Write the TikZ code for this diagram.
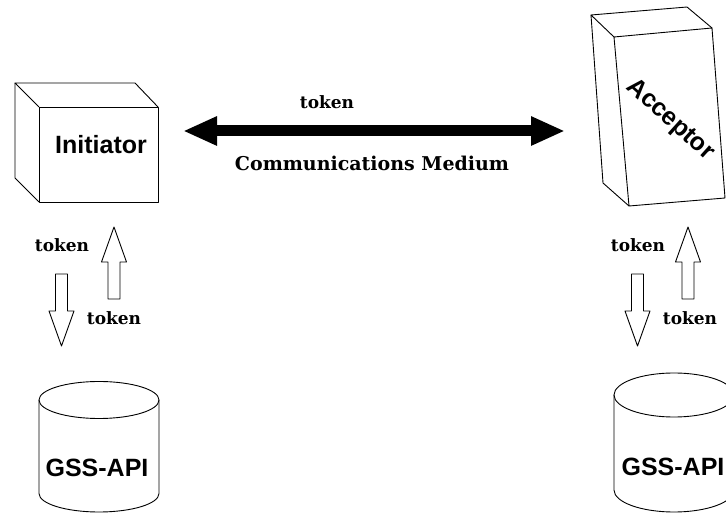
\documentclass[tikz,border=0pt]{standalone}
\usepackage{fontspec}
\setmainfont{DejaVu Serif}
\newfontfamily\helv{Liberation Sans}
\usetikzlibrary{arrows.meta}
\colorlet{inkx}{black}
\tikzset{
    outline/.style={draw=inkx,line width=0.9pt,line join=round},
    boxlabel/.style={inkx,font=\helv\bfseries\fontsize{25}{25}\selectfont,inner sep=0pt},
    toklabel/.style={inkx,font=\bfseries\fontsize{17}{17}\selectfont,inner sep=0pt},
    tokarrow/.pic={
        \draw [outline] (-6,0) -- (6,0) -- (6,-37) -- (12.5,-37)
            -- (0,-72) -- (-12.5,-37) -- (-6,-37) -- cycle;
    }
}

\begin{document}
\begin{tikzpicture}[x=1pt,y=1pt]
    \fill [white] (0,0) rectangle (726,514);
    \useasboundingbox (0,0) rectangle (726,514);
    % initiator box
    \draw [outline] (39,312) rectangle (158,407);
    \draw [outline] (39,407) -- (15,431) -- (135,431) -- (158,407);
    \draw [outline] (15,431) -- (15,336) -- (39,312);
    \node [boxlabel] (init) at (101,369) {Initiator};
    % acceptor box
    \draw [outline] (614,477) -- (712,486) -- (725,316) -- (629,308) -- cycle;
    \draw [outline] (614,477) -- (591,499) -- (687,507) -- (712,486);
    \draw [outline] (591,499) -- (603,331) -- (629,308);
    \node [boxlabel,rotate=-42] (acpt) at (670,394) {Acceptor};
    % medium
    \coordinate (medL) at (183,383);
    \coordinate (medR) at (565,383);
    \draw [inkx,line width=11pt,{Triangle[length=34pt,width=27pt]}-{Triangle[length=34pt,width=27pt]}]
        (medL) -- (medR);
    \node [toklabel] (tokTop) at (327,412) {token};
    \node [toklabel,font=\bfseries\fontsize{19}{19}\selectfont] (medium) at (372,351) {Communications Medium};
    % token arrows
    \pic (arLd) at (61.5,240) {tokarrow};
    \pic [rotate=180] (arLu) at (114,215) {tokarrow};
    \pic (arRd) at (637.5,240) {tokarrow};
    \pic [rotate=180] (arRu) at (688,215) {tokarrow};
    \foreach \x/\y/\nm in {62/269/tokLa,114/196/tokLb,638/269/tokRa,690/196/tokRb} {
        \node [toklabel] (\nm) at (\x,\y) {token};
    }
    % cylinders
    \foreach \cx/\top/\bot/\ry in {39/114/20.5/18.5,614/119/24/22} {
        \draw [outline] (\cx,\top) -- (\cx,\bot)
            arc [start angle=180,end angle=360,x radius=60,y radius=\ry]
            -- (\cx+120,\top);
        \draw [outline] (\cx+60,\top) ellipse [x radius=60,y radius=\ry];
    }
    \node [boxlabel] (gssL) at (97,46) {GSS-API};
    \node [boxlabel] (gssR) at (673,47) {GSS-API};
\end{tikzpicture}
\end{document}
